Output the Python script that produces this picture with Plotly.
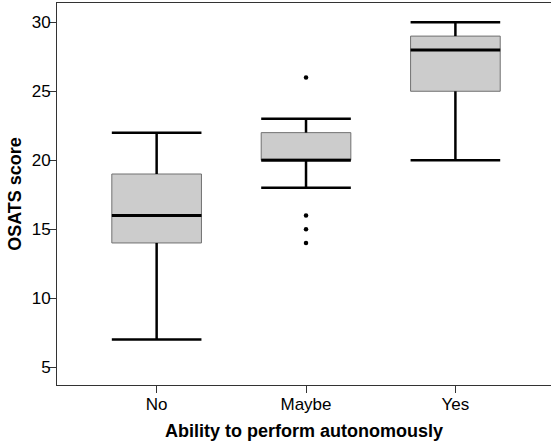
import plotly.graph_objects as go

categories = ["No", "Maybe", "Yes"]
lower_whisker = [7, 18, 20]
q1 = [14, 20, 25]
median = [16, 20, 28]
q3 = [19, 22, 29]
upper_whisker = [22, 23, 30]
outlier_cat = ["Maybe", "Maybe", "Maybe", "Maybe"]
outlier_val = [26, 16, 15, 14]
y_ticks = [5, 10, 15, 20, 25, 30]

BOX_W = 0.6
pos = {c: i for i, c in enumerate(categories)}
xs = list(range(len(categories)))

fig = go.Figure()

# boxes
fig.add_trace(go.Box(
    x=xs, q1=q1, median=median, q3=q3,
    lowerfence=q1, upperfence=q3,
    width=BOX_W, whiskerwidth=0,
    fillcolor="#cccccc", line=dict(color="#707070", width=1),
    boxpoints=False, showlegend=False, hoverinfo="skip"))

# whiskers (vertical) and caps
wx, wy, cx, cy, mx, my = [], [], [], [], [], []
for i in xs:
    wx += [i, i, None, i, i, None]
    wy += [lower_whisker[i], q1[i], None, q3[i], upper_whisker[i], None]
    for v in (lower_whisker[i], upper_whisker[i]):
        cx += [i - BOX_W / 2, i + BOX_W / 2, None]
        cy += [v, v, None]
    mx += [i - BOX_W / 2, i + BOX_W / 2, None]
    my += [median[i], median[i], None]

fig.add_trace(go.Scatter(x=wx, y=wy, mode="lines",
                         line=dict(color="black", width=2.5),
                         showlegend=False, hoverinfo="skip"))
fig.add_trace(go.Scatter(x=cx, y=cy, mode="lines",
                         line=dict(color="black", width=2.5),
                         showlegend=False, hoverinfo="skip"))
fig.add_trace(go.Scatter(x=mx, y=my, mode="lines",
                         line=dict(color="black", width=3),
                         showlegend=False, hoverinfo="skip"))
fig.add_trace(go.Scatter(x=[pos[c] for c in outlier_cat], y=outlier_val,
                         mode="markers", marker=dict(color="black", size=4.5),
                         showlegend=False, hoverinfo="skip"))

fig.update_layout(
    width=551, height=444,
    margin=dict(l=57, r=0, t=3, b=59, autoexpand=False),
    paper_bgcolor="white", plot_bgcolor="white",
    font=dict(family="Liberation Sans, Arial, sans-serif", color="black", size=17),
    xaxis=dict(
        range=[-0.667, 2.64], tickvals=xs, ticktext=categories,
        showgrid=False, zeroline=False, automargin=False,
        showline=True, linecolor="#333333", linewidth=1, mirror=True,
        ticks="outside", ticklen=7, tickcolor="#333333",
        tickfont=dict(size=17), ticklabelstandoff=-3,
        title=dict(text="<b>Ability to perform autonomously</b>", font=dict(size=18), standoff=10),
    ),
    yaxis=dict(
        range=[3.7, 31.4], tickvals=y_ticks,
        showgrid=False, zeroline=False, automargin=False,
        showline=True, linecolor="#333333", linewidth=1,
        ticks="outside", ticklen=7, tickcolor="#333333",
        tickfont=dict(size=17), ticklabelstandoff=-5,
        title=dict(text="<b>OSATS score</b>", font=dict(size=18), standoff=5),
    ),
)

fig.write_html("out.html", config={"displayModeBar": False},
               post_script="document.body.style.margin='0';")
